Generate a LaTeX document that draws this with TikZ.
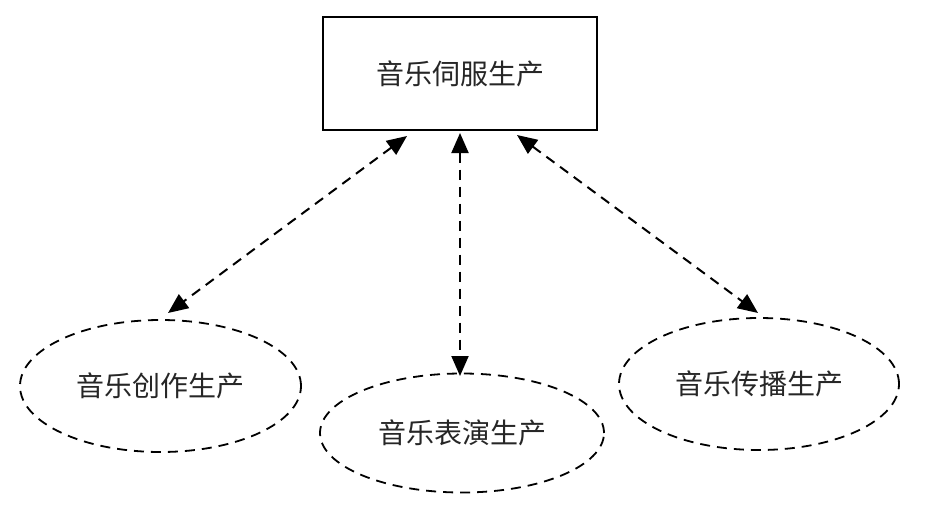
\documentclass[tikz,border=0pt]{standalone}
\usepackage{fontspec}
\newfontfamily\cjk{Noto Sans CJK SC}
\usetikzlibrary{arrows.meta,shapes.geometric}
\tikzset{
  lbl/.style={font=\cjk\fontsize{28}{30}\selectfont, text=black!85},
  topbox/.style={draw, line width=2pt, minimum width=274pt, minimum height=113pt, inner sep=0pt, lbl},
  oval/.style={draw, ellipse, dash pattern=on 10pt off 7pt, line width=1.8pt, inner sep=0pt, lbl},
  link/.style={line width=2pt, dash pattern=on 10pt off 7pt, {Triangle[length=20pt,width=17pt]}-{Triangle[length=20pt,width=17pt]}}
}
\begin{document}
\begin{tikzpicture}[x=1pt,y=-1pt]
\useasboundingbox (0,0) rectangle (928,525);
\node[topbox] (box) at (460,73.5) {音乐伺服生产};
\node[oval, minimum width=281pt, minimum height=132pt] (cre) at (160.5,386) {音乐创作生产};
\node[oval, minimum width=284pt, minimum height=119pt] (per) at (462,433) {音乐表演生产};
\node[oval, minimum width=280pt, minimum height=132pt] (dis) at (759,384) {音乐传播生产};
\coordinate (s1) at (407,136);
\coordinate (s2) at (460,133);
\coordinate (s3) at (517,135);
\coordinate (e1) at (168,313);
\coordinate (e2) at (460,376);
\coordinate (e3) at (758,313);
\draw[link] (s1) -- (e1);
\draw[link] (s2) -- (e2);
\draw[link] (s3) -- (e3);
\end{tikzpicture}
\end{document}
